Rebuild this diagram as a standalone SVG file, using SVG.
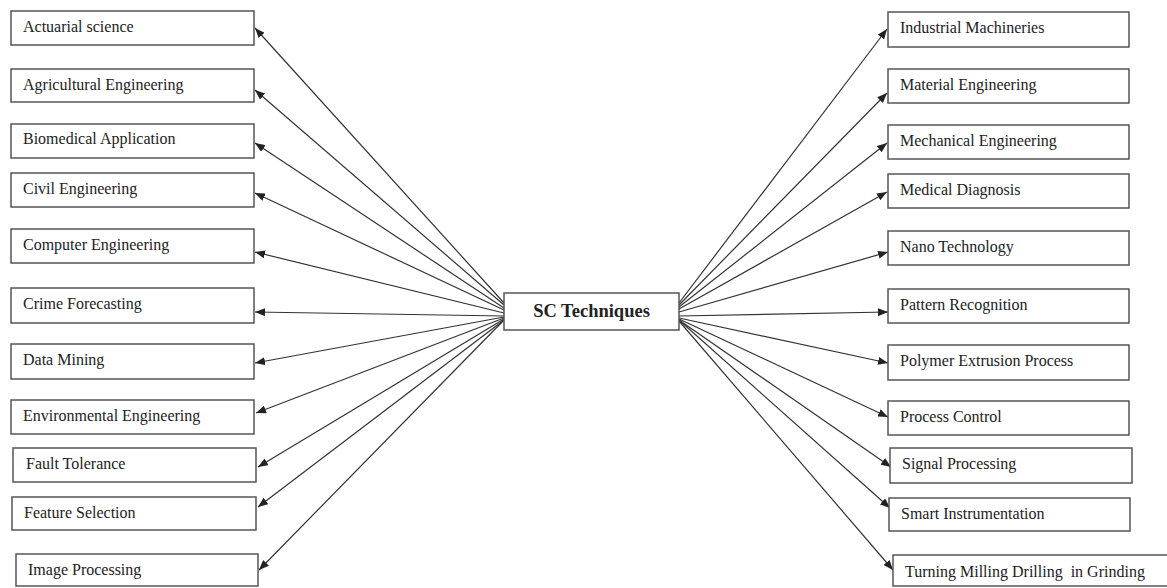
<svg xmlns="http://www.w3.org/2000/svg" width="1167" height="588" viewBox="0 0 1167 588">
<style>
.box{fill:#fff;stroke:#555;stroke-width:1.5}
.lbl{font-family:"Liberation Serif","Times New Roman",serif;font-size:16px;fill:#222}
.ctr{font-family:"Liberation Serif","Times New Roman",serif;font-size:18.5px;font-weight:bold;fill:#222}
.ln{stroke:#333;stroke-width:1.2;fill:none;marker-end:url(#ah)}
</style>
<defs>
<marker id="ah" markerUnits="userSpaceOnUse" markerWidth="10" markerHeight="8" refX="10" refY="4" orient="auto">
<path d="M0,0 L10,4 L0,8 z" fill="#222"/>
</marker>
</defs>
<rect width="1167" height="588" fill="#fff"/>
<g id="connectors">
<line class="ln" x1="504" y1="303" x2="255" y2="28"/>
<line class="ln" x1="504" y1="305" x2="255" y2="90"/>
<line class="ln" x1="504" y1="308" x2="255" y2="143"/>
<line class="ln" x1="504" y1="310" x2="255" y2="193"/>
<line class="ln" x1="504" y1="313" x2="255" y2="252"/>
<line class="ln" x1="504" y1="316" x2="255" y2="312"/>
<line class="ln" x1="504" y1="317" x2="255" y2="363"/>
<line class="ln" x1="504" y1="318" x2="256" y2="413"/>
<line class="ln" x1="504" y1="319" x2="258" y2="467"/>
<line class="ln" x1="504" y1="320" x2="258" y2="507"/>
<line class="ln" x1="504" y1="320" x2="259" y2="570"/>
<line class="ln" x1="679" y1="303" x2="887" y2="29"/>
<line class="ln" x1="679" y1="305" x2="887" y2="93"/>
<line class="ln" x1="679" y1="307" x2="887" y2="143"/>
<line class="ln" x1="679" y1="309" x2="887" y2="192"/>
<line class="ln" x1="679" y1="312" x2="888" y2="252"/>
<line class="ln" x1="679" y1="316" x2="888" y2="312"/>
<line class="ln" x1="679" y1="318" x2="888" y2="363"/>
<line class="ln" x1="679" y1="319" x2="888" y2="417"/>
<line class="ln" x1="679" y1="320" x2="891" y2="467"/>
<line class="ln" x1="679" y1="320" x2="890" y2="508"/>
<line class="ln" x1="679" y1="321" x2="893" y2="570"/>
</g>
<g id="center"><rect class="box" x="504" y="293" width="175" height="37"/><text class="ctr" x="591.5" y="317" text-anchor="middle">SC Techniques</text></g>
<g id="n-actuarial"><rect class="box" x="11" y="11" width="243" height="34"/><text class="lbl" x="23" y="32">Actuarial science</text></g>
<g id="n-agricultural"><rect class="box" x="11" y="69" width="243" height="33"/><text class="lbl" x="23" y="90">Agricultural Engineering</text></g>
<g id="n-biomedical"><rect class="box" x="11" y="124" width="243" height="34"/><text class="lbl" x="23" y="144">Biomedical Application</text></g>
<g id="n-civil"><rect class="box" x="11" y="173" width="243" height="34"/><text class="lbl" x="23" y="194">Civil Engineering</text></g>
<g id="n-computer"><rect class="box" x="11" y="229" width="243" height="34"/><text class="lbl" x="23" y="250">Computer Engineering</text></g>
<g id="n-crime"><rect class="box" x="11" y="288" width="243" height="35"/><text class="lbl" x="23" y="309">Crime Forecasting</text></g>
<g id="n-datamining"><rect class="box" x="11" y="344" width="243" height="35"/><text class="lbl" x="23" y="365">Data Mining</text></g>
<g id="n-environmental"><rect class="box" x="11" y="400" width="243" height="34"/><text class="lbl" x="23" y="421">Environmental Engineering</text></g>
<g id="n-fault"><rect class="box" x="13" y="448" width="243" height="34"/><text class="lbl" x="26" y="469">Fault Tolerance</text></g>
<g id="n-feature"><rect class="box" x="12" y="497" width="244" height="33"/><text class="lbl" x="24" y="518">Feature Selection</text></g>
<g id="n-image"><rect class="box" x="16" y="554" width="242" height="32"/><text class="lbl" x="28" y="575">Image Processing</text></g>
<g id="n-industrial"><rect class="box" x="888" y="12" width="241" height="35"/><text class="lbl" x="900" y="33">Industrial Machineries</text></g>
<g id="n-material"><rect class="box" x="888" y="69" width="241" height="34"/><text class="lbl" x="900" y="90">Material Engineering</text></g>
<g id="n-mechanical"><rect class="box" x="888" y="125" width="241" height="34"/><text class="lbl" x="900" y="146">Mechanical Engineering</text></g>
<g id="n-medical"><rect class="box" x="888" y="174" width="241" height="34"/><text class="lbl" x="900" y="195">Medical Diagnosis</text></g>
<g id="n-nano"><rect class="box" x="888" y="231" width="241" height="34"/><text class="lbl" x="900" y="252">Nano Technology</text></g>
<g id="n-pattern"><rect class="box" x="888" y="289" width="241" height="34"/><text class="lbl" x="900" y="310">Pattern Recognition</text></g>
<g id="n-polymer"><rect class="box" x="888" y="345" width="241" height="35"/><text class="lbl" x="900" y="366">Polymer Extrusion Process</text></g>
<g id="n-process"><rect class="box" x="888" y="401" width="241" height="34"/><text class="lbl" x="900" y="422">Process Control</text></g>
<g id="n-signal"><rect class="box" x="890" y="448" width="242" height="35"/><text class="lbl" x="902" y="469">Signal Processing</text></g>
<g id="n-smart"><rect class="box" x="889" y="498" width="241" height="33"/><text class="lbl" x="901" y="519">Smart Instrumentation</text></g>
<g id="n-turning"><rect class="box" x="893" y="555" width="280" height="31"/><text class="lbl" x="905" y="577" xml:space="preserve">Turning Milling Drilling  in Grinding</text></g>
</svg>
